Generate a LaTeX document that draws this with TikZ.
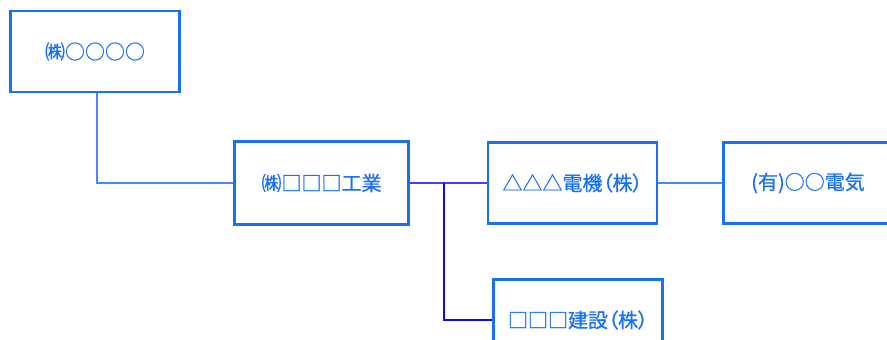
\documentclass[tikz,border=0pt]{standalone}
\usepackage{fontspec}
\setmainfont{Noto Sans CJK JP}[FakeBold=0.6]
\newfontfamily\paltfont{Noto Sans CJK JP}[FakeBold=0.6,RawFeature=+palt]
\definecolor{boxblue}{RGB}{24,112,246}
\definecolor{lineblue}{RGB}{70,135,250}
\definecolor{linepurple}{RGB}{72,60,255}
\definecolor{linedeep}{RGB}{10,10,255}
\begin{document}
\begin{tikzpicture}[x=1pt,y=-1pt,
        company/.style={draw=boxblue,line width=2.8pt,text=boxblue,inner sep=0pt,
            minimum width=169pt,minimum height=81pt,font=\fontsize{20}{23}\selectfont},
        link/.style={lineblue,line width=1.2pt}]
    \clip (0,0) rectangle (887,340);
    \fill[white] (0,0) rectangle (887,340);
    % companies
    \node[company] (parent) at (95,51.5) {㈱○○○○};
    \node[company,minimum width=174pt,minimum height=83pt] (kogyo) at (321.5,183) {㈱□□□工業};
    \node[company] (denki) at (572.5,183) {\paltfont △△△電機（株）};
    \node[company] (yugen) at (808,183) {(有)○○電気};
    \node[company] (kensetsu) at (578,320) {\paltfont □□□建設（株）};
    % connectors
    \coordinate (fork) at (444,183);
    \draw[link] ([xshift=2pt]parent.south) |- (kogyo.west);
    \draw[link,linepurple] (kogyo.east) -- (denki.west);
    \draw[link,linedeep] (fork) |- (kensetsu.west);
    \draw[link] (denki.east) -- (yugen.west);
\end{tikzpicture}
\end{document}
